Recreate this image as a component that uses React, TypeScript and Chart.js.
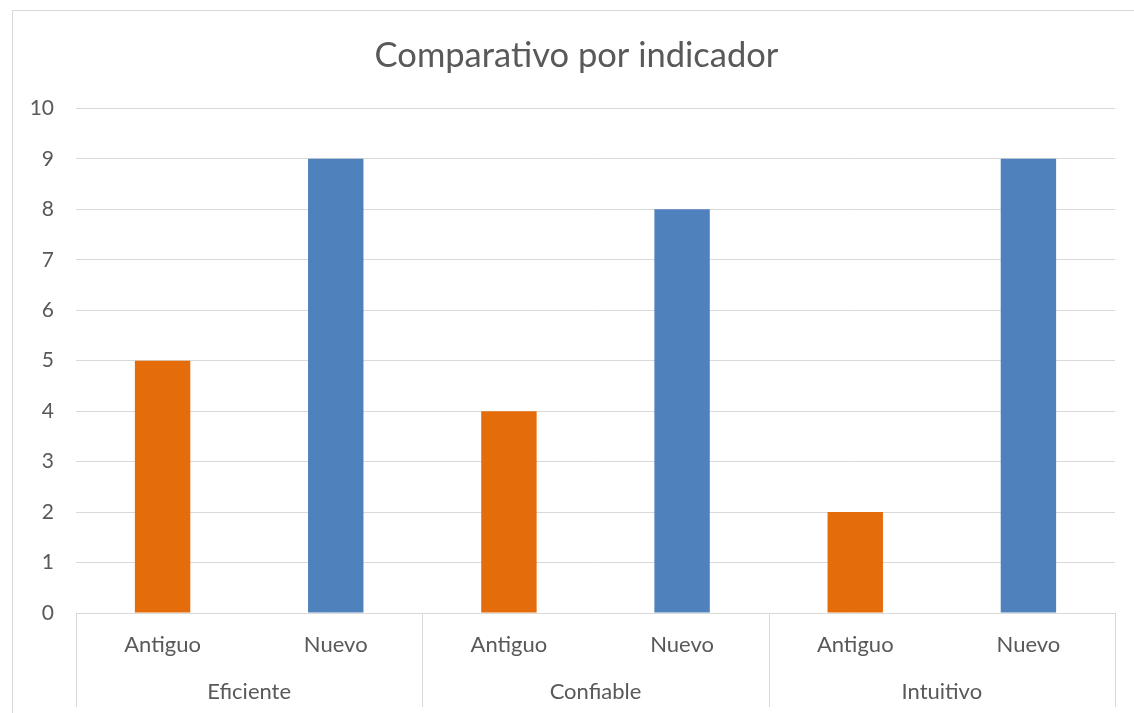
import React, { useEffect, useRef } from "react";
import { Chart, registerables } from "chart.js";

Chart.register(...registerables);

const groups = ["Eficiente", "Confiable", "Intuitivo"];
const seriesNames = ["Antiguo", "Nuevo"];
const antiguo = [5, 4, 2];
const nuevo = [9, 8, 9];
const yMin = 0;
const yMax = 10;
const yStep = 1;
const title = "Comparativo por indicador";

const ORANGE = "#E46C0A";
const BLUE = "#4F81BD";
const GRID = "#d9d9d9";
const TEXT = "#595959";
const FONT = "Lato, 'Open Sans', sans-serif";

const CANVAS_W = 1141;
const CANVAS_H = 713;

export default function App() {
  const ref = useRef<HTMLCanvasElement | null>(null);

  useEffect(() => {
    if (!ref.current) return;
    const labels = groups.flatMap(() => seriesNames);
    const antData = groups.flatMap((_, i) => [antiguo[i], null]);
    const nueData = groups.flatMap((_, i) => [null, nuevo[i]]);

    const framePlugin = {
      id: "frame",
      beforeDraw(chart: any) {
        const ctx = chart.ctx;
        ctx.save();
        ctx.fillStyle = "#ffffff";
        ctx.fillRect(0, 0, chart.width, chart.height);
        ctx.strokeStyle = GRID;
        ctx.lineWidth = 1;
        ctx.strokeRect(12.5, 10.5, chart.width + 50, chart.height + 50);
        ctx.restore();
      },
      afterDraw(chart: any) {
        const ctx = chart.ctx;
        const a = chart.chartArea;
        const n = groups.length;
        ctx.save();
        ctx.strokeStyle = GRID;
        ctx.lineWidth = 1;
        for (let i = 0; i <= n; i++) {
          const x = Math.round(a.left + (i * (a.right - a.left)) / n) + 0.5;
          ctx.beginPath();
          ctx.moveTo(x, a.bottom);
          ctx.lineTo(x, 707);
          ctx.stroke();
        }
        ctx.restore();
      },
    };

    const chart = new Chart(ref.current, {
      type: "bar",
      data: {
        labels,
        datasets: [
          {
            label: seriesNames[0],
            data: antData,
            backgroundColor: ORANGE,
            skipNull: true,
            categoryPercentage: 1,
            barPercentage: 0.32,
          } as any,
          {
            label: seriesNames[1],
            data: nueData,
            backgroundColor: BLUE,
            skipNull: true,
            categoryPercentage: 1,
            barPercentage: 0.32,
          } as any,
        ],
      },
      options: {
        responsive: false,
        animation: false,
        devicePixelRatio: 1,
        layout: { padding: { left: 12, right: 0, top: 10, bottom: 0 } },
        plugins: {
          legend: { display: false },
          tooltip: { enabled: false },
          title: {
            display: true,
            text: title,
            color: TEXT,
            font: { family: FONT, size: 34.5, weight: "normal" },
            padding: { top: 25, bottom: 32 },
          },
        },
        scales: {
          x: {
            position: "bottom",
            grid: { display: false },
            border: { display: false },
            ticks: {
              color: TEXT,
              font: { family: FONT, size: 22 },
              padding: 11,
              autoSkip: false,
              maxRotation: 0,
            },
            afterFit(scale: any) {
              scale.height = 47;
            },
          },
          x2: {
            type: "category",
            position: "bottom",
            labels: groups,
            offset: true,
            grid: { display: false },
            border: { display: false },
            ticks: {
              color: TEXT,
              font: { family: FONT, size: 22 },
              padding: 11,
              autoSkip: false,
              maxRotation: 0,
            },
            afterFit(scale: any) {
              scale.height = 53;
            },
          },
          y: {
            min: yMin,
            max: yMax,
            grid: { color: GRID, lineWidth: 1, drawTicks: false },
            border: { display: false },
            ticks: {
              stepSize: yStep,
              color: TEXT,
              font: { family: FONT, size: 21 },
              padding: 22,
            },
            afterFit(scale: any) {
              scale.width = 64;
            },
          },
          yRight: {
            position: "right",
            min: yMin,
            max: yMax,
            grid: { display: false },
            border: { display: false },
            ticks: { display: false },
            afterFit(scale: any) {
              scale.width = 26;
            },
          },
        },
      } as any,
      plugins: [framePlugin],
    });
    return () => chart.destroy();
  }, []);

  return (
    <div
      style={{
        position: "absolute",
        left: 0,
        top: 0,
        width: 1134,
        height: 713,
        overflow: "hidden",
      }}
    >
      <canvas ref={ref} width={CANVAS_W} height={CANVAS_H} style={{ display: "block" }} />
    </div>
  );
}
